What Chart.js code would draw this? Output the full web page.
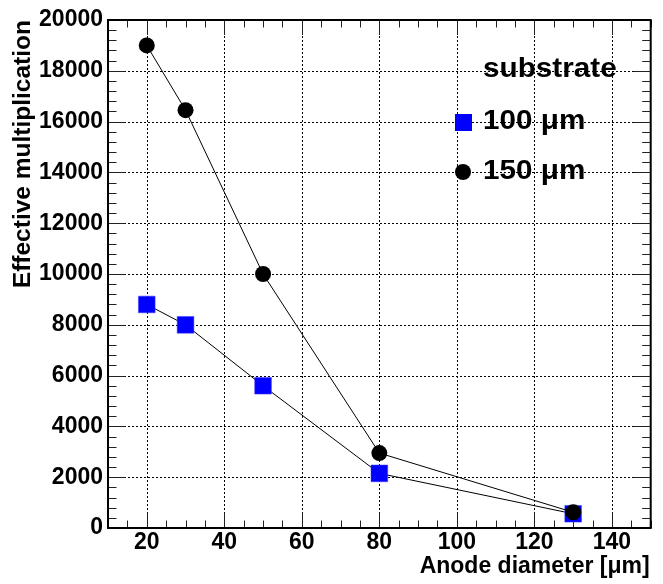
<!DOCTYPE html>
<html>
<head>
<meta charset="utf-8">
<script src="https://cdn.jsdelivr.net/npm/chart.js@4/dist/chart.umd.min.js"></script>
<style>
  html, body { margin: 0; padding: 0; background: #fff; }
</style>
</head>
<body>
<canvas id="grafico" width="663" height="584"></canvas>
<script>
// Diâmetro do ânodo (µm) e multiplicação efetiva para cada espessura de substrato
const diametros = [20, 30, 50, 80, 130];
const mult100 = [8800, 8000, 5600, 2150, 560];
const mult150 = [19000, 16450, 10000, 2950, 620];
const rotulos = ['100 \u03bcm', '150 \u03bcm'];
const tituloLegenda = 'substrate';
const tituloX = 'Anode diameter [\u03bcm]';
const tituloY = 'Effective multiplication';
const ticksX = [20, 40, 60, 80, 100, 120, 140];
const ticksY = [0, 2000, 4000, 6000, 8000, 10000, 12000, 14000, 16000, 18000, 20000];

const fonte = '"Liberation Sans", Arial, sans-serif';
const azul = '#0000ff';

// Junta x e y em pontos
function pontos(ys) {
  return diametros.map((d, i) => ({ x: d, y: ys[i] }));
}

// Linha simples
function linha(ctx, x1, y1, x2, y2) {
  ctx.beginPath();
  ctx.moveTo(x1, y1);
  ctx.lineTo(x2, y2);
  ctx.stroke();
}

// Texto um pouco mais largo, como no ROOT
function textoLargo(ctx, txt, x, y) {
  ctx.save();
  ctx.translate(x, y);
  ctx.scale(1.1, 1);
  ctx.fillText(txt, 0, 0);
  ctx.restore();
}

// Grade pontilhada, marcas internas e moldura no estilo ROOT
const molduraRoot = {
  id: 'molduraRoot',
  beforeDatasetsDraw(chart) {
    const { ctx, chartArea: a, scales: { x, y } } = chart;
    ctx.save();
    ctx.strokeStyle = '#000';
    ctx.lineWidth = 1;
    ctx.setLineDash([2, 2]);
    ticksX.forEach((v) => {
      const px = Math.round(x.getPixelForValue(v)) + 0.5;
      linha(ctx, px, a.top, px, a.bottom);
    });
    ticksY.slice(1, -1).forEach((v) => {
      const py = Math.round(y.getPixelForValue(v)) + 0.5;
      linha(ctx, a.left, py, a.right, py);
    });
    ctx.setLineDash([]);

    // marcas do eixo x (maiores a cada 20, menores a cada 5)
    ctx.strokeStyle = '#222';
    for (let v = 10; v <= 150; v += 5) {
      const px = Math.round(x.getPixelForValue(v)) + 0.5;
      const tam = v % 20 === 0 ? 15 : 7.5;
      linha(ctx, px, a.bottom, px, a.bottom - tam);
      linha(ctx, px, a.top, px, a.top + tam);
    }
    // marcas do eixo y (maiores a cada 2000, menores a cada 400)
    for (let v = 0; v <= 20000; v += 400) {
      const py = Math.round(y.getPixelForValue(v)) + 0.5;
      const tam = v % 2000 === 0 ? 17 : 8.5;
      linha(ctx, a.left, py, a.left + tam, py);
      linha(ctx, a.right, py, a.right - tam, py);
    }

    ctx.strokeStyle = '#000';
    ctx.lineWidth = 2;
    ctx.strokeRect(a.left, a.top, a.right - a.left, a.bottom - a.top);
    ctx.restore();
  },
  afterDraw(chart) {
    const { ctx, chartArea: a } = chart;
    ctx.save();
    ctx.fillStyle = '#000';
    ctx.textBaseline = 'middle';

    // títulos dos eixos, alinhados ao fim como no ROOT
    ctx.textAlign = 'right';
    ctx.font = 'bold 23px ' + fonte;
    ctx.fillText(tituloX, a.right - 1, 567);
    ctx.save();
    ctx.font = 'bold 24.5px ' + fonte;
    ctx.translate(23, a.top);
    ctx.rotate(-Math.PI / 2);
    ctx.fillText(tituloY, 0, 0);
    ctx.restore();

    // legenda
    ctx.textAlign = 'left';
    ctx.font = 'bold 27px ' + fonte;
    textoLargo(ctx, tituloLegenda, 483, 70);
    const ds = chart.data.datasets;
    const entradas = [ds[1], ds[0]];
    entradas.forEach((d, i) => {
      const cy = 122 + i * 50;
      ctx.fillStyle = d.pointBackgroundColor;
      if (d.pointStyle === 'rect') {
        ctx.fillRect(455, cy - 8, 17, 17);
      } else {
        ctx.beginPath();
        ctx.arc(463, cy, 8, 0, Math.PI * 2);
        ctx.fill();
      }
      ctx.fillStyle = '#000';
      textoLargo(ctx, d.label, 483, cy);
    });
    ctx.restore();
  }
};

const ctx = document.getElementById('grafico').getContext('2d');

new Chart(ctx, {
  type: 'scatter',
  data: {
    datasets: [{
      label: rotulos[1],
      data: pontos(mult150),
      showLine: true,
      borderColor: '#000',
      borderWidth: 1,
      pointStyle: 'circle',
      pointRadius: 8,
      pointHoverRadius: 8,
      pointBackgroundColor: '#000',
      pointBorderColor: '#000',
      pointBorderWidth: 0
    }, {
      label: rotulos[0],
      data: pontos(mult100),
      showLine: true,
      borderColor: '#000',
      borderWidth: 1,
      pointStyle: 'rect',
      pointRadius: 11.8,
      pointHoverRadius: 11.8,
      pointBackgroundColor: azul,
      pointBorderColor: '#3a3aff',
      pointBorderWidth: 0.5
    }]
  },
  options: {
    responsive: false,
    animation: false,
    events: [],
    layout: { padding: { top: 20, right: 4, left: 0, bottom: 0 } },
    plugins: {
      legend: { display: false },
      tooltip: { enabled: false }
    },
    scales: {
      x: {
        type: 'linear',
        min: 10,
        max: 150,
        grid: { display: false, drawTicks: false },
        border: { display: false },
        afterBuildTicks: (s) => { s.ticks = ticksX.map((v) => ({ value: v })); },
        afterFit: (s) => { s.height = 56; },
        ticks: {
          color: '#000',
          padding: 1,
          maxRotation: 0,
          callback: (v) => String(v),
          font: { family: fonte, weight: 'bold', size: 23 }
        }
      },
      y: {
        type: 'linear',
        min: 0,
        max: 20000,
        grid: { display: false, drawTicks: false },
        border: { display: false },
        afterBuildTicks: (s) => { s.ticks = ticksY.map((v) => ({ value: v })); },
        afterFit: (s) => { s.width = 108; },
        ticks: {
          color: '#000',
          padding: 5,
          callback: (v) => String(v),
          font: { family: fonte, weight: 'bold', size: 23 }
        }
      }
    }
  },
  plugins: [molduraRoot]
});
</script>
</body>
</html>
